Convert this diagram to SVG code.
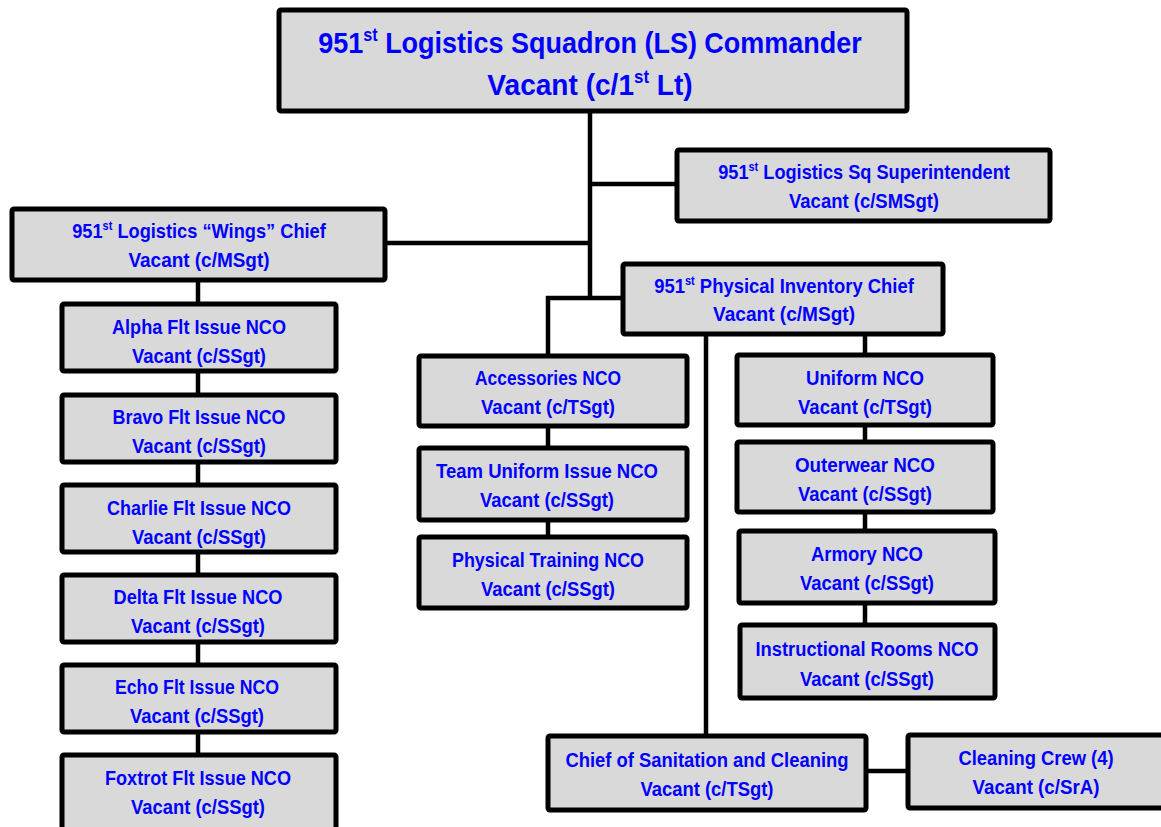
<svg xmlns="http://www.w3.org/2000/svg" width="1161" height="827" viewBox="0 0 1161 827">
<style>
.box{fill:#D9D9D9;stroke:#000;stroke-width:5;}
.t{font-family:"Liberation Sans",Arial,sans-serif;font-weight:bold;font-size:20px;fill:#0000FF;text-anchor:middle;}
.tb{font-family:"Liberation Sans",Arial,sans-serif;font-weight:bold;font-size:30px;fill:#0000FF;text-anchor:middle;}
.c{stroke:#000;stroke-width:4.5;fill:none;}
</style>
<rect width="1161" height="827" fill="#fff"/>
<g id="connectors">
<line class="c" x1="590" y1="110" x2="590" y2="300"/>
<line class="c" x1="590" y1="184" x2="678" y2="184"/>
<line class="c" x1="384" y1="243" x2="590" y2="243"/>
<line class="c" x1="546" y1="298" x2="624" y2="298"/>
<line class="c" x1="548" y1="296" x2="548" y2="540"/>
<line class="c" x1="198" y1="279" x2="198" y2="760"/>
<line class="c" x1="865" y1="333" x2="865" y2="628"/>
<line class="c" x1="706" y1="333" x2="706" y2="738"/>
<line class="c" x1="864" y1="771" x2="910" y2="771"/>
</g>
<g id="commander">
<rect class="box" x="279" y="10" width="628" height="101" rx="2"/>
<text class="tb" transform="translate(590,53) scale(0.9,1)" x="0" y="0">951<tspan dy="-12" font-size="18">st</tspan><tspan dy="12"> Logistics Squadron (LS) Commander</tspan></text>
<text class="tb" transform="translate(590,95) scale(0.936,1)" x="0" y="0">Vacant (c/1<tspan dy="-12" font-size="18">st</tspan><tspan dy="12"> Lt)</tspan></text>
</g>
<g id="superintendent">
<rect class="box" x="677" y="150" width="373" height="71" rx="2"/>
<text class="t" transform="translate(864,179) scale(0.91,1)" x="0" y="0">951<tspan dy="-8" font-size="12">st</tspan><tspan dy="8"> Logistics Sq Superintendent</tspan></text>
<text class="t" x="864" y="208" textLength="150" lengthAdjust="spacingAndGlyphs">Vacant (c/SMSgt)</text>
</g>
<g id="wings-chief">
<rect class="box" x="12" y="209" width="373" height="71" rx="2"/>
<text class="t" transform="translate(199,238) scale(0.912,1)" x="0" y="0">951<tspan dy="-8" font-size="12">st</tspan><tspan dy="8"> Logistics “Wings” Chief</tspan></text>
<text class="t" x="199" y="267" textLength="141" lengthAdjust="spacingAndGlyphs">Vacant (c/MSgt)</text>
</g>
<g id="inventory-chief">
<rect class="box" x="623" y="264" width="320" height="70" rx="2"/>
<text class="t" transform="translate(784,293) scale(0.922,1)" x="0" y="0">951<tspan dy="-8" font-size="12">st</tspan><tspan dy="8"> Physical Inventory Chief</tspan></text>
<text class="t" x="784" y="321" textLength="142" lengthAdjust="spacingAndGlyphs">Vacant (c/MSgt)</text>
</g>
<g id="alpha">
<rect class="box" x="62" y="304" width="274" height="67" rx="2"/>
<text class="t" x="199" y="334" textLength="174" lengthAdjust="spacingAndGlyphs">Alpha Flt Issue NCO</text>
<text class="t" x="199" y="363" textLength="134" lengthAdjust="spacingAndGlyphs">Vacant (c/SSgt)</text>
</g>
<g id="bravo">
<rect class="box" x="62" y="395" width="274" height="67" rx="2"/>
<text class="t" x="199" y="424" textLength="173" lengthAdjust="spacingAndGlyphs">Bravo Flt Issue NCO</text>
<text class="t" x="199" y="453" textLength="134" lengthAdjust="spacingAndGlyphs">Vacant (c/SSgt)</text>
</g>
<g id="charlie">
<rect class="box" x="62" y="485" width="274" height="67" rx="2"/>
<text class="t" x="199" y="515" textLength="184" lengthAdjust="spacingAndGlyphs">Charlie Flt Issue NCO</text>
<text class="t" x="199" y="544" textLength="134" lengthAdjust="spacingAndGlyphs">Vacant (c/SSgt)</text>
</g>
<g id="delta">
<rect class="box" x="62" y="575" width="274" height="67" rx="2"/>
<text class="t" x="198" y="604" textLength="169" lengthAdjust="spacingAndGlyphs">Delta Flt Issue NCO</text>
<text class="t" x="198" y="633" textLength="134" lengthAdjust="spacingAndGlyphs">Vacant (c/SSgt)</text>
</g>
<g id="echo">
<rect class="box" x="62" y="665" width="274" height="67" rx="2"/>
<text class="t" x="197" y="694" textLength="164" lengthAdjust="spacingAndGlyphs">Echo Flt Issue NCO</text>
<text class="t" x="197" y="723" textLength="134" lengthAdjust="spacingAndGlyphs">Vacant (c/SSgt)</text>
</g>
<g id="foxtrot">
<rect class="box" x="62" y="755" width="274" height="80" rx="2"/>
<text class="t" x="198" y="785" textLength="186" lengthAdjust="spacingAndGlyphs">Foxtrot Flt Issue NCO</text>
<text class="t" x="198" y="814" textLength="134" lengthAdjust="spacingAndGlyphs">Vacant (c/SSgt)</text>
</g>
<g id="accessories">
<rect class="box" x="419" y="356" width="268" height="70" rx="2"/>
<text class="t" x="548" y="385" textLength="146" lengthAdjust="spacingAndGlyphs">Accessories NCO</text>
<text class="t" x="548" y="414" textLength="134" lengthAdjust="spacingAndGlyphs">Vacant (c/TSgt)</text>
</g>
<g id="team-uniform">
<rect class="box" x="419" y="448" width="268" height="72" rx="2"/>
<text class="t" x="547" y="478" textLength="222" lengthAdjust="spacingAndGlyphs">Team Uniform Issue NCO</text>
<text class="t" x="547" y="507" textLength="134" lengthAdjust="spacingAndGlyphs">Vacant (c/SSgt)</text>
</g>
<g id="physical-training">
<rect class="box" x="419" y="537" width="268" height="71" rx="2"/>
<text class="t" x="548" y="567" textLength="192" lengthAdjust="spacingAndGlyphs">Physical Training NCO</text>
<text class="t" x="548" y="596" textLength="134" lengthAdjust="spacingAndGlyphs">Vacant (c/SSgt)</text>
</g>
<g id="uniform">
<rect class="box" x="737" y="355" width="256" height="70" rx="2"/>
<text class="t" x="865" y="385" textLength="118" lengthAdjust="spacingAndGlyphs">Uniform NCO</text>
<text class="t" x="865" y="414" textLength="134" lengthAdjust="spacingAndGlyphs">Vacant (c/TSgt)</text>
</g>
<g id="outerwear">
<rect class="box" x="737" y="442" width="256" height="70" rx="2"/>
<text class="t" x="865" y="472" textLength="140" lengthAdjust="spacingAndGlyphs">Outerwear NCO</text>
<text class="t" x="865" y="501" textLength="134" lengthAdjust="spacingAndGlyphs">Vacant (c/SSgt)</text>
</g>
<g id="armory">
<rect class="box" x="739" y="531" width="256" height="72" rx="2"/>
<text class="t" x="867" y="561" textLength="112" lengthAdjust="spacingAndGlyphs">Armory NCO</text>
<text class="t" x="867" y="590" textLength="134" lengthAdjust="spacingAndGlyphs">Vacant (c/SSgt)</text>
</g>
<g id="instructional-rooms">
<rect class="box" x="740" y="625" width="255" height="73" rx="2"/>
<text class="t" x="867" y="656" textLength="223" lengthAdjust="spacingAndGlyphs">Instructional Rooms NCO</text>
<text class="t" x="867" y="686" textLength="134" lengthAdjust="spacingAndGlyphs">Vacant (c/SSgt)</text>
</g>
<g id="sanitation-chief">
<rect class="box" x="548" y="736" width="318" height="74" rx="2"/>
<text class="t" x="707" y="767" textLength="283" lengthAdjust="spacingAndGlyphs">Chief of Sanitation and Cleaning</text>
<text class="t" x="707" y="796" textLength="133" lengthAdjust="spacingAndGlyphs">Vacant (c/TSgt)</text>
</g>
<g id="cleaning-crew">
<rect class="box" x="908" y="735" width="262" height="73" rx="2"/>
<text class="t" x="1036" y="765" textLength="155" lengthAdjust="spacingAndGlyphs">Cleaning Crew (4)</text>
<text class="t" x="1036" y="794" textLength="127" lengthAdjust="spacingAndGlyphs">Vacant (c/SrA)</text>
</g>
</svg>
